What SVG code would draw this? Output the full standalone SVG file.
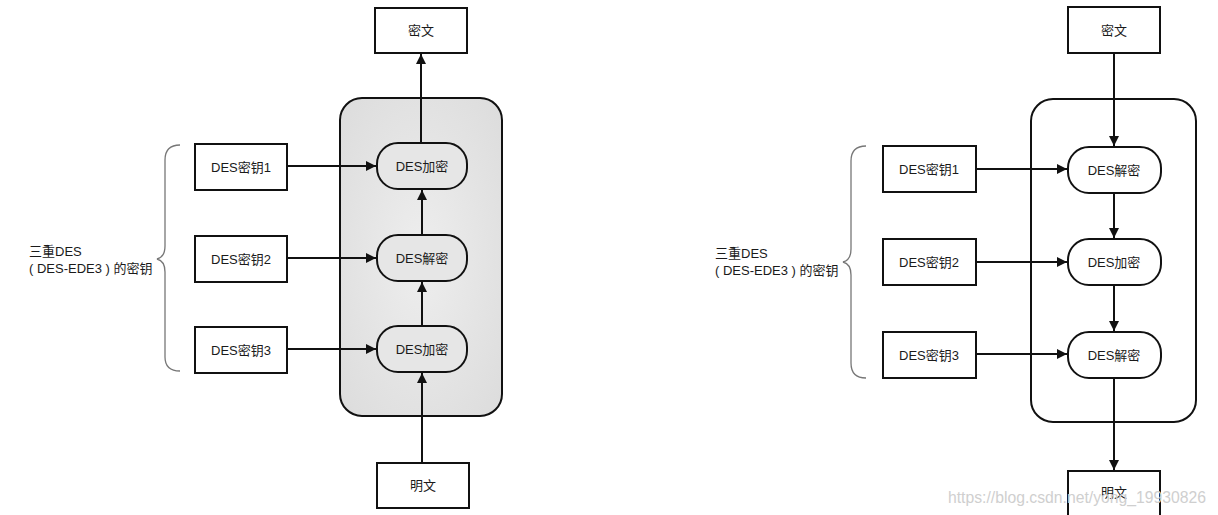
<svg xmlns="http://www.w3.org/2000/svg" width="1218" height="515" viewBox="0 0 1218 515">
<style>
.box{fill:#fff;stroke:#111;stroke-width:2}
.node{fill:#fff;stroke:#111;stroke-width:2}
.gnode{fill:#e6e6e6;stroke:#111;stroke-width:2}
.t{font-family:"Liberation Sans","Noto Sans CJK SC",sans-serif;font-size:13px;fill:#1a1a1a;text-anchor:middle;dominant-baseline:central}
.lbl{font-family:"Liberation Sans","Noto Sans CJK SC",sans-serif;font-size:13px;fill:#1a1a1a}
.ln{stroke:#111;stroke-width:2;fill:none}
.brace{stroke:#777;stroke-width:1.3;fill:none}
.wm{font-family:"Liberation Sans",sans-serif;font-size:16px;fill:#cfcfcf}
</style>
<defs>
<marker id="ah" viewBox="0 0 10 10" refX="10" refY="5" markerWidth="5.5" markerHeight="5" orient="auto" markerUnits="strokeWidth">
<path d="M0,0 L10,5 L0,10 z" fill="#111"/>
</marker>
<radialGradient id="gbg" cx="0.5" cy="0.5" r="0.7">
<stop offset="0" stop-color="#eeeeee"/>
<stop offset="1" stop-color="#dcdcdc"/>
</radialGradient>
</defs>
<rect width="1218" height="515" fill="#fff"/>

<!-- Left diagram -->
<g id="left-container"><rect x="340" y="98" width="162" height="318" rx="22" fill="url(#gbg)" stroke="#111" stroke-width="2"/></g>
<g id="left-cipher"><rect class="box" x="375" y="8" width="92" height="45"/><text class="t" x="421" y="30">密文</text></g>
<g id="left-plain"><rect class="box" x="377" y="463" width="92" height="45"/><text class="t" x="423" y="485">明文</text></g>
<g id="left-key1"><rect class="box" x="195" y="144" width="92" height="46"/><text class="t" x="241" y="167">DES密钥1</text></g>
<g id="left-key2"><rect class="box" x="195" y="236" width="92" height="46"/><text class="t" x="241" y="259">DES密钥2</text></g>
<g id="left-key3"><rect class="box" x="195" y="327" width="92" height="46"/><text class="t" x="241" y="350">DES密钥3</text></g>
<g id="left-enc1"><rect class="gnode" x="377" y="143" width="90" height="46" rx="21"/><text class="t" x="422" y="166">DES加密</text></g>
<g id="left-dec2"><rect class="gnode" x="377" y="235" width="90" height="46" rx="21"/><text class="t" x="422" y="258">DES解密</text></g>
<g id="left-enc3"><rect class="gnode" x="377" y="326" width="90" height="46" rx="21"/><text class="t" x="422" y="349">DES加密</text></g>
<g id="left-label">
<path class="brace" d="M180,145 Q165,145 165,160 L165,246 Q165,257 157,259 Q165,261 165,272 L165,357 Q165,371 180,371"/>
<text class="lbl" x="29" y="256">三重DES</text>
<text class="lbl" x="29" y="273">( DES-EDE3 ) 的密钥</text>
</g>

<!-- Right diagram -->
<g id="right-container"><rect x="1031" y="99" width="165" height="323" rx="22" fill="#fff" stroke="#111" stroke-width="2"/></g>
<g id="right-cipher"><rect class="box" x="1068" y="7" width="92" height="46"/><text class="t" x="1114" y="30">密文</text></g>
<g id="right-plain"><rect class="box" x="1068" y="471" width="92" height="50"/><text class="t" x="1114" y="492">明文</text></g>
<g id="right-key1"><rect class="box" x="883" y="146" width="93" height="46"/><text class="t" x="929" y="169">DES密钥1</text></g>
<g id="right-key2"><rect class="box" x="883" y="239" width="93" height="46"/><text class="t" x="929" y="262">DES密钥2</text></g>
<g id="right-key3"><rect class="box" x="883" y="332" width="93" height="46"/><text class="t" x="929" y="355">DES密钥3</text></g>
<g id="right-dec1"><rect class="node" x="1068" y="147" width="93" height="46" rx="21"/><text class="t" x="1114" y="170">DES解密</text></g>
<g id="right-enc2"><rect class="node" x="1068" y="239" width="93" height="46" rx="21"/><text class="t" x="1114" y="262">DES加密</text></g>
<g id="right-dec3"><rect class="node" x="1068" y="332" width="93" height="46" rx="21"/><text class="t" x="1114" y="355">DES解密</text></g>
<g id="right-label">
<path class="brace" d="M866,146 Q851,146 851,161 L851,249 Q851,260 843,262 Q851,264 851,275 L851,363 Q851,378 866,378"/>
<text class="lbl" x="715" y="258">三重DES</text>
<text class="lbl" x="715" y="275">( DES-EDE3 ) 的密钥</text>
</g>

<g id="connectors">
<!-- left -->
<line class="ln" x1="422" y1="463" x2="422" y2="373" marker-end="url(#ah)"/>
<line class="ln" x1="422" y1="326" x2="422" y2="282" marker-end="url(#ah)"/>
<line class="ln" x1="422" y1="235" x2="422" y2="190" marker-end="url(#ah)"/>
<line class="ln" x1="421" y1="143" x2="421" y2="54" marker-end="url(#ah)"/>
<line class="ln" x1="287" y1="166" x2="376" y2="166" marker-end="url(#ah)"/>
<line class="ln" x1="287" y1="258" x2="376" y2="258" marker-end="url(#ah)"/>
<line class="ln" x1="287" y1="349" x2="376" y2="349" marker-end="url(#ah)"/>
<!-- right -->
<line class="ln" x1="1114" y1="53" x2="1114" y2="146" marker-end="url(#ah)"/>
<line class="ln" x1="1114" y1="193" x2="1114" y2="238" marker-end="url(#ah)"/>
<line class="ln" x1="1114" y1="285" x2="1114" y2="331" marker-end="url(#ah)"/>
<line class="ln" x1="1114" y1="378" x2="1114" y2="470" marker-end="url(#ah)"/>
<line class="ln" x1="976" y1="169" x2="1067" y2="169" marker-end="url(#ah)"/>
<line class="ln" x1="976" y1="262" x2="1067" y2="262" marker-end="url(#ah)"/>
<line class="ln" x1="976" y1="354" x2="1067" y2="354" marker-end="url(#ah)"/>
</g>

<text class="wm" x="948" y="503" textLength="258" lengthAdjust="spacingAndGlyphs">https://blog.csdn.net/yong_19930826</text>
</svg>
